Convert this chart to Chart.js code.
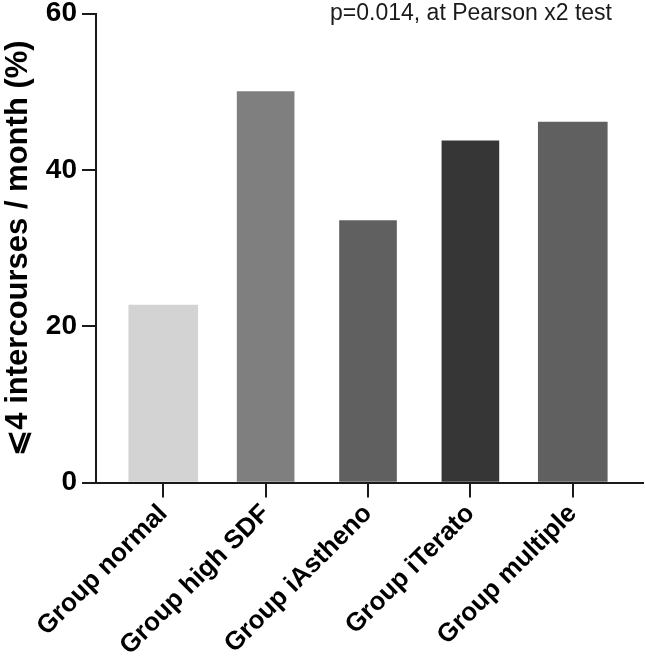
<!DOCTYPE html>
<html>
<head>
<meta charset="utf-8">
<script src="https://cdn.jsdelivr.net/npm/chart.js@4"></script>
<style>
  html, body { margin: 0; padding: 0; background: #fff; }
  #wrap { width: 645px; height: 668px; }
</style>
</head>
<body>
<div id="wrap"><canvas id="chart1" width="645" height="668"></canvas></div>
<script>
const groups = ["Group normal", "Group high SDF", "Group iAstheno", "Group iTerato", "Group multiple"];
const percents = [22.7, 50.0, 33.5, 43.7, 46.1];
const barColors = ["#d3d3d3", "#7f7f7f", "#606060", "#363636", "#606060"];
const yTicks = [0, 20, 40, 60];
const note = "p=0.014, at Pearson x2 test";

const ink = "#1a1a1a";
const fontFam = "'Liberation Sans', Arial, sans-serif";

// the two outer bars are wider than the middle ones in the original
const idx = groups.map((g, i) => i);
const outer = idx.filter(i => i === 0 || i === groups.length - 1);
const inner = idx.filter(i => i !== 0 && i !== groups.length - 1);

function makeSet(list, thickness) {
  return {
    data: list.map(i => ({ x: i, y: percents[i] })),
    backgroundColor: list.map(i => barColors[i]),
    barThickness: thickness,
    grouped: false
  };
}

const noteText = {
  id: "noteText",
  afterDraw(chart) {
    const c = chart.ctx;
    c.save();
    c.font = "23px " + fontFam;
    c.fillStyle = ink;
    c.textAlign = "right";
    c.textBaseline = "middle";
    c.fillText(note, chart.chartArea.right - 31, 14);
    c.restore();
  }
};

const ctx = document.getElementById("chart1").getContext("2d");
new Chart(ctx, {
  type: "bar",
  data: { datasets: [makeSet(outer, 69), makeSet(inner, 57)] },
  plugins: [noteText],
  options: {
    responsive: false,
    animation: false,
    layout: { padding: { top: 13.5, right: 2, left: 0, bottom: 0 } },
    plugins: { legend: { display: false }, tooltip: { enabled: false } },
    scales: {
      x: {
        type: "linear",
        min: -0.657,
        max: 4.686,
        offset: false,
        grid: { offset: false, drawOnChartArea: false, drawTicks: true, tickLength: 15, color: ink, lineWidth: 2 },
        border: { display: true, color: ink, width: 2 },
        afterBuildTicks: s => { s.ticks = idx.map(i => ({ value: i })); },
        ticks: {
          autoSkip: false,
          maxRotation: 45,
          minRotation: 45,
          padding: 1,
          color: "#000",
          font: { family: fontFam, size: 26, weight: "bold" },
          callback: v => groups[v]
        },
        afterFit: s => { s.height = 185.5; s.paddingLeft = 0; s.paddingRight = 0; }
      },
      y: {
        min: 0,
        max: 60,
        grid: { drawOnChartArea: false, drawTicks: true, tickLength: 14, color: ink, lineWidth: 2 },
        border: { display: true, color: ink, width: 2 },
        afterBuildTicks: s => { s.ticks = yTicks.map(v => ({ value: v })); },
        ticks: {
          padding: 5,
          color: "#000",
          font: { family: fontFam, size: 28, weight: "bold" }
        },
        title: {
          display: true,
          text: "⩽4 intercourses / month (%)",
          color: "#000",
          padding: { top: 0, bottom: 0 },
          font: { family: fontFam, size: 31, weight: "bold" }
        },
        afterFit: s => { s.width = 96; s.paddingTop = 0; s.paddingBottom = 0; }
      }
    }
  }
});
</script>
</body>
</html>
